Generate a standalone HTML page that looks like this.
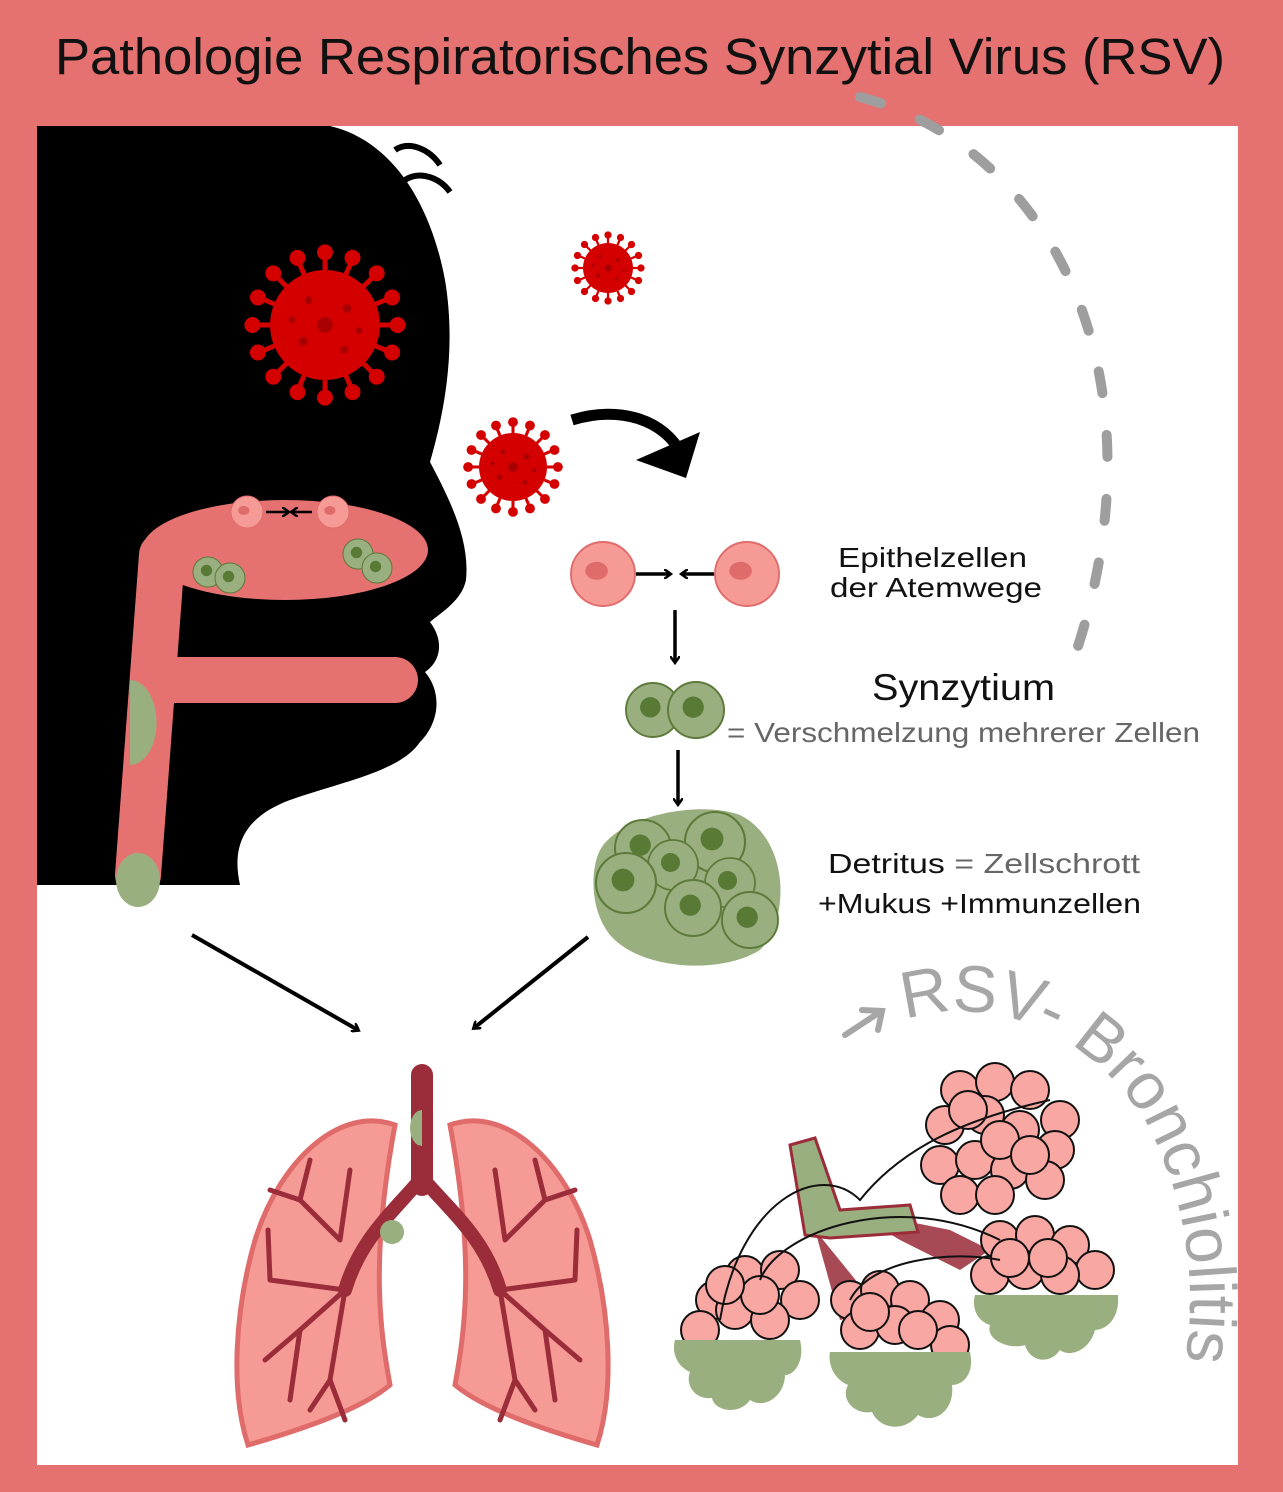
<!DOCTYPE html>
<html><head><meta charset="utf-8"><style>
html,body{margin:0;padding:0}
body{width:1283px;height:1492px;background:#e57171;position:relative;overflow:hidden;font-family:"Liberation Sans","DejaVu Sans",sans-serif}
</style></head><body>
<svg width="1283" height="1492" viewBox="0 0 1283 1492" xmlns="http://www.w3.org/2000/svg" style="position:absolute;left:0;top:0">
<defs>
<g id="virus">
 <g stroke="#d40000" stroke-width="0.09" fill="#d40000">
  <line x1="0" y1="-1" x2="0" y2="-1.3"/><circle cx="0" cy="-1.32" r="0.1"/>
  <line x1="0" y1="1" x2="0" y2="1.3"/><circle cx="0" cy="1.32" r="0.1"/>
  <line x1="-1" y1="0" x2="-1.3" y2="0"/><circle cx="-1.32" cy="0" r="0.1"/>
  <line x1="1" y1="0" x2="1.3" y2="0"/><circle cx="1.32" cy="0" r="0.1"/>
  <line x1="0.7" y1="0.7" x2="0.92" y2="0.92"/><circle cx="0.94" cy="0.94" r="0.1"/>
  <line x1="-0.7" y1="0.7" x2="-0.92" y2="0.92"/><circle cx="-0.94" cy="0.94" r="0.1"/>
  <line x1="0.7" y1="-0.7" x2="0.92" y2="-0.92"/><circle cx="0.94" cy="-0.94" r="0.1"/>
  <line x1="-0.7" y1="-0.7" x2="-0.92" y2="-0.92"/><circle cx="-0.94" cy="-0.94" r="0.1"/>
  <line x1="0.38" y1="0.92" x2="0.5" y2="1.2"/><circle cx="0.5" cy="1.22" r="0.1"/>
  <line x1="-0.38" y1="0.92" x2="-0.5" y2="1.2"/><circle cx="-0.5" cy="1.22" r="0.1"/>
  <line x1="0.38" y1="-0.92" x2="0.5" y2="-1.2"/><circle cx="0.5" cy="-1.22" r="0.1"/>
  <line x1="-0.38" y1="-0.92" x2="-0.5" y2="-1.2"/><circle cx="-0.5" cy="-1.22" r="0.1"/>
  <line x1="0.92" y1="0.38" x2="1.2" y2="0.5"/><circle cx="1.22" cy="0.5" r="0.1"/>
  <line x1="-0.92" y1="0.38" x2="-1.2" y2="0.5"/><circle cx="-1.22" cy="0.5" r="0.1"/>
  <line x1="0.92" y1="-0.38" x2="1.2" y2="-0.5"/><circle cx="1.22" cy="-0.5" r="0.1"/>
  <line x1="-0.92" y1="-0.38" x2="-1.2" y2="-0.5"/><circle cx="-1.22" cy="-0.5" r="0.1"/>
 </g>
 <circle r="1" fill="#d40000"/>
 <g fill="#a80000"><circle r="0.14"/><circle cx="0.4" cy="-0.3" r="0.08"/><circle cx="-0.4" cy="0.3" r="0.08"/><circle cx="-0.3" cy="-0.45" r="0.07"/><circle cx="0.35" cy="0.45" r="0.07"/><circle cx="-0.6" cy="-0.1" r="0.06"/><circle cx="0.62" cy="0.1" r="0.06"/></g>
</g>
<g id="pcell"><circle r="1" fill="#f59a94" stroke="#e06b6b" stroke-width="0.06"/><ellipse cx="-0.2" cy="-0.1" rx="0.35" ry="0.28" fill="#e06b6b"/></g>
<g id="gcell"><circle r="1" fill="#9aaf80" stroke="#5d7a3a" stroke-width="0.07"/><circle cx="-0.1" cy="-0.1" r="0.38" fill="#587a35"/></g>
<marker id="ah" markerWidth="10" markerHeight="10" refX="6" refY="5" orient="auto" markerUnits="userSpaceOnUse"><path d="M0,0 L7,5 L0,10" fill="none" stroke="#000" stroke-width="2.5"/></marker>
<g id="pc"><circle r="19" fill="#f8a7a3" stroke="#111" stroke-width="2"/></g>
</defs>

<rect x="37" y="126" width="1201" height="1339" fill="#fff"/>
<text x="55" y="74" font-size="51" fill="#111" textLength="1170" lengthAdjust="spacingAndGlyphs">Pathologie Respiratorisches Synzytial Virus (RSV)</text>

<!-- silhouette -->
<path d="M37,126 L330,126 C390,140 430,200 445,280 C455,340 448,400 430,462 C450,500 470,540 466,580 C462,600 442,612 430,622 C445,642 440,662 425,672 C442,692 440,722 420,742 C400,772 340,782 290,800 C250,815 230,840 240,885 L37,885 Z" fill="#000"/>
<path d="M395,150 C410,140 430,150 440,165 M405,180 C420,170 440,178 450,192" stroke="#000" stroke-width="6" fill="none"/>

<!-- airway -->
<ellipse cx="285" cy="550" rx="143" ry="50" fill="#e57171"/>
<path d="M162,555 L138,875" stroke="#e57171" stroke-width="46" stroke-linecap="round"/>
<path d="M165,680 L395,680" stroke="#e57171" stroke-width="46" stroke-linecap="round"/>
<path d="M130,680 A25,40 0 0 1 130,765 Z" fill="#9aaf80"/>
<ellipse cx="138" cy="880" rx="22" ry="27" fill="#9aaf80"/>
<use href="#pcell" transform="translate(247,512) scale(16)"/>
<use href="#pcell" transform="translate(333,512) scale(16)"/>
<path d="M266,512 L288,512" stroke="#000" stroke-width="2.5" marker-end="url(#ah)"/>
<path d="M312,512 L292,512" stroke="#000" stroke-width="2.5" marker-end="url(#ah)"/>
<use href="#gcell" transform="translate(208,572) scale(15)"/>
<use href="#gcell" transform="translate(230,578) scale(15)"/>
<use href="#gcell" transform="translate(358,554) scale(15)"/>
<use href="#gcell" transform="translate(377,568) scale(15)"/>

<!-- viruses -->
<use href="#virus" transform="translate(325,325) scale(55)"/>
<use href="#virus" transform="translate(608,268) scale(25)"/>
<use href="#virus" transform="translate(513,467) scale(34)"/>

<!-- curved arrow -->
<path d="M572,420 C620,405 665,420 682,455" stroke="#000" stroke-width="11" fill="none"/>
<path d="M636,460 L686,478 L700,432 Z" fill="#000"/>

<!-- cells sequence -->
<use href="#pcell" transform="translate(603,574) scale(32)"/>
<use href="#pcell" transform="translate(747,574) scale(32)"/>
<path d="M636,574 L670,574" stroke="#000" stroke-width="3.5" marker-end="url(#ah)"/>
<path d="M714,574 L682,574" stroke="#000" stroke-width="3.5" marker-end="url(#ah)"/>
<path d="M675,610 L675,662" stroke="#000" stroke-width="3.5" marker-end="url(#ah)"/>
<use href="#gcell" transform="translate(653,710) scale(27)"/>
<use href="#gcell" transform="translate(696,710) scale(28)"/>
<path d="M678,750 L678,804" stroke="#000" stroke-width="3.5" marker-end="url(#ah)"/>
<path d="M600,850 C620,815 700,800 740,815 C790,840 790,920 760,950 C720,975 640,970 610,935 C590,910 590,870 600,850 Z" fill="#9aaf80"/>
<use href="#gcell" transform="translate(643,848) scale(28)"/>
<use href="#gcell" transform="translate(715,842) scale(30)"/>
<use href="#gcell" transform="translate(673,865) scale(25)"/>
<use href="#gcell" transform="translate(626,883) scale(30)"/>
<use href="#gcell" transform="translate(730,883) scale(25)"/>
<use href="#gcell" transform="translate(693,908) scale(28)"/>
<use href="#gcell" transform="translate(750,920) scale(28)"/>

<!-- text -->
<g font-size="28" fill="#111">
<text x="838" y="567" textLength="189" lengthAdjust="spacingAndGlyphs">Epithelzellen</text>
<text x="830" y="597" textLength="212" lengthAdjust="spacingAndGlyphs">der Atemwege</text>
<text x="872" y="700" font-size="37" textLength="183" lengthAdjust="spacingAndGlyphs">Synzytium</text>
<text x="727" y="742" fill="#666" textLength="473" lengthAdjust="spacingAndGlyphs">= Verschmelzung mehrerer Zellen</text>
<text x="828" y="873" textLength="312" lengthAdjust="spacingAndGlyphs">Detritus <tspan fill="#666">= Zellschrott</tspan></text>
<text x="818" y="913" textLength="323" lengthAdjust="spacingAndGlyphs">+Mukus +Immunzellen</text>
</g>

<!-- dashed arc -->
<path d="M860,97 C1060,150 1170,390 1070,670" stroke="#9e9e9e" stroke-width="10" fill="none" stroke-dasharray="22 42" stroke-linecap="round"/>

<!-- arrows to lungs -->
<path d="M192,935 L358,1030" stroke="#000" stroke-width="4" marker-end="url(#ah)"/>
<path d="M588,937 L474,1028" stroke="#000" stroke-width="4" marker-end="url(#ah)"/>

<!-- lungs -->
<g stroke="#e06b6b" stroke-width="5" fill="#f59a94">
<path d="M395,1125 C340,1105 280,1160 255,1240 C235,1310 230,1390 248,1445 C300,1430 360,1410 390,1385 C380,1330 370,1260 395,1125 Z"/>
<path d="M450,1125 C505,1105 565,1160 590,1240 C610,1310 615,1390 597,1445 C545,1430 485,1410 455,1385 C465,1330 475,1260 450,1125 Z"/>
</g>
<g stroke="#9b2d3a" fill="none" stroke-linecap="round">
<path d="M422,1075 L422,1185" stroke-width="22"/>
<path d="M420,1180 C390,1215 360,1240 345,1290 M424,1180 C455,1215 485,1240 500,1290" stroke-width="14"/>
<path d="M345,1290 L300,1330 M345,1290 L330,1380 M345,1290 L270,1280 M340,1240 L300,1200 M300,1330 L265,1360 M300,1330 L290,1400 M330,1380 L345,1420 M270,1280 L268,1230 M340,1240 L350,1170 M300,1200 L310,1160 M300,1200 L270,1190 M330,1380 L310,1410" stroke-width="5"/>
<path d="M500,1290 L545,1330 M500,1290 L515,1380 M500,1290 L575,1280 M505,1240 L545,1200 M545,1330 L580,1360 M545,1330 L555,1400 M515,1380 L500,1420 M575,1280 L577,1230 M505,1240 L495,1170 M545,1200 L535,1160 M545,1200 L575,1190 M515,1380 L535,1410" stroke-width="5"/>
</g>
<path d="M422,1110 A12,18 0 0 0 422,1146 Z" fill="#9aaf80"/>
<circle cx="392" cy="1232" r="12" fill="#9aaf80"/>

<!-- bronchioles -->
<path d="M815,1230 L880,1310 L840,1320 Z M850,1210 L950,1230 L990,1250 L960,1270 L900,1240 Z" fill="#a84a55"/>
<g>
<use href="#pc" x="960" y="1090"/><use href="#pc" x="995" y="1082"/><use href="#pc" x="1030" y="1090"/><use href="#pc" x="1060" y="1120"/><use href="#pc" x="945" y="1125"/><use href="#pc" x="985" y="1115"/><use href="#pc" x="1020" y="1130"/><use href="#pc" x="1055" y="1150"/><use href="#pc" x="940" y="1165"/><use href="#pc" x="975" y="1160"/><use href="#pc" x="1010" y="1170"/><use href="#pc" x="1045" y="1180"/><use href="#pc" x="960" y="1195"/><use href="#pc" x="995" y="1195"/><use href="#pc" x="1000" y="1140"/><use href="#pc" x="968" y="1110"/><use href="#pc" x="1030" y="1155"/>
<use href="#pc" x="1000" y="1240"/><use href="#pc" x="1035" y="1235"/><use href="#pc" x="1070" y="1245"/><use href="#pc" x="1095" y="1270"/><use href="#pc" x="990" y="1275"/><use href="#pc" x="1025" y="1270"/><use href="#pc" x="1060" y="1275"/><use href="#pc" x="1010" y="1258"/><use href="#pc" x="1048" y="1258"/>
<use href="#pc" x="715" y="1300"/><use href="#pc" x="745" y="1275"/><use href="#pc" x="780" y="1270"/><use href="#pc" x="800" y="1300"/><use href="#pc" x="735" y="1310"/><use href="#pc" x="770" y="1320"/><use href="#pc" x="700" y="1330"/><use href="#pc" x="760" y="1295"/><use href="#pc" x="725" y="1285"/>
<use href="#pc" x="850" y="1300"/><use href="#pc" x="880" y="1290"/><use href="#pc" x="910" y="1300"/><use href="#pc" x="940" y="1320"/><use href="#pc" x="860" y="1330"/><use href="#pc" x="895" y="1325"/><use href="#pc" x="950" y="1345"/><use href="#pc" x="870" y="1312"/><use href="#pc" x="918" y="1330"/>
</g>
<g fill="#9aaf80">
<path d="M975,1295 L1118,1295 C1120,1320 1105,1330 1095,1330 C1090,1350 1070,1358 1060,1350 C1050,1365 1030,1362 1025,1345 C1010,1350 985,1340 990,1325 C975,1320 972,1305 975,1295 Z"/>
<path d="M675,1340 L800,1340 C805,1360 795,1375 785,1375 C785,1395 765,1410 750,1400 C740,1415 715,1412 712,1398 C695,1400 685,1385 690,1372 C675,1365 672,1350 675,1340 Z"/>
<path d="M830,1352 L970,1352 C975,1375 962,1385 952,1385 C955,1410 935,1425 918,1415 C905,1432 880,1430 872,1412 C855,1415 840,1400 848,1385 C832,1378 828,1362 830,1352 Z"/>
</g>
<path d="M790,1145 L815,1138 L840,1210 L910,1205 L918,1232 L830,1238 L805,1235 Z" fill="#9aaf80" stroke="#9b2d3a" stroke-width="3"/>
<path d="M720,1320 C740,1200 820,1160 860,1200 C900,1150 960,1120 1050,1100 M760,1280 C780,1230 900,1190 1000,1240 M850,1300 C870,1260 950,1250 1000,1260" stroke="#111" stroke-width="2" fill="none"/>

<!-- RSV- Bronchiolitis -->
<path id="arc" d="M905,1020 C1000,990 1100,1040 1150,1130 C1190,1210 1200,1300 1180,1390" fill="none"/>
<text font-size="66" fill="#a6a6a6"><textPath href="#arc">RSV- Bronchiolitis</textPath></text>
<path d="M845,1035 L880,1012 M862,1010 L882,1011 L878,1030" stroke="#a6a6a6" stroke-width="6" fill="none" stroke-linecap="round"/>
</svg>
</body></html>
